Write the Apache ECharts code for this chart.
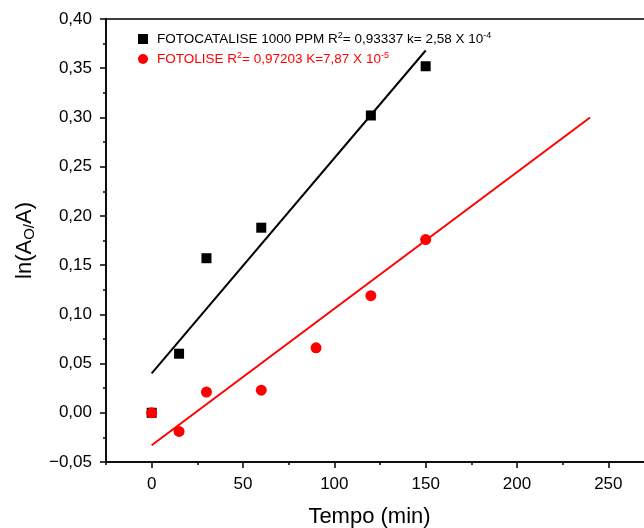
<!DOCTYPE html>
<html>
<head>
<meta charset="utf-8">
<script src="https://cdn.jsdelivr.net/npm/echarts@6/dist/echarts.min.js"></script>
<style>html,body{margin:0;padding:0;background:#fff}#c{width:644px;height:528px}</style>
</head>
<body>
<div id="c"></div>
<script>
// ---- data ----
const tempoCat = [0, 15, 30, 60, 120, 150];
const lnCat = [0.000, 0.060, 0.157, 0.188, 0.302, 0.352];
const tempoFot = [0, 15, 30, 60, 90, 120, 150];
const lnFot = [0.000, -0.019, 0.021, 0.023, 0.066, 0.119, 0.176];
// fitted lines (end points)
const fitCatX = [0, 150];
const fitCatY = [0.040, 0.368];
const fitFotX = [0, 240];
const fitFotY = [-0.033, 0.300];
const xMajorTicks = [0, 50, 100, 150, 200, 250];
const xMinorTicks = [-25, 25, 75, 125, 175, 225, 275];
const nameCat = 'FOTOCATALISE 1000 PPM';
const nameFot = 'FOTOLISE';

const zip = (a, b) => a.map((v, i) => [v, b[i]]);
const FONT = 'Liberation Sans, Arial, sans-serif';

const chart = echarts.init(document.getElementById('c'), null, {renderer: 'canvas'});
chart.setOption({
  animation: false,
  backgroundColor: '#fff',
  textStyle: {fontFamily: FONT},
  grid: {left: 106, top: 19, width: 548, bottom: 66, show: true, borderColor: '#000', borderWidth: 1.5,
    containLabel: false, outerBoundsMode: 'none'},
  legend: {
    orient: 'vertical', left: 133, top: 26, itemGap: 4,
    itemWidth: 10, itemHeight: 10,
    data: [
      {name: nameCat, icon: 'rect', itemStyle: {color: '#000'}, textStyle: {color: '#000'}},
      {name: nameFot, icon: 'circle', itemStyle: {color: '#ff0000'}, textStyle: {color: '#ff0000'}}
    ],
    formatter: function (n) {
      if (n === nameCat) return n + ' R{sup|2}= 0,93337 k= 2,58 X 10{sup|-4}';
      return n + ' R{sup|2}= 0,97203 K=7,87 X 10{sup|-5}';
    },
    textStyle: {fontFamily: FONT, fontSize: 13.5, lineHeight: 16, padding: [0, 0, 0, 4],
      rich: {sup: {fontSize: 9, verticalAlign: 'top', lineHeight: 16}}}
  },
  xAxis: [{
    type: 'value', min: -25, max: 275,
    name: 'Tempo (min)', nameLocation: 'middle', nameGap: 44,
    nameTextStyle: {fontFamily: FONT, fontSize: 22, color: '#000', padding: [0, 21, 0, 0]},
    axisLine: {onZero: false, lineStyle: {color: '#000', width: 1.5}},
    axisTick: {show: true, length: 6, customValues: xMajorTicks, lineStyle: {color: '#000', width: 1.5}},
    axisLabel: {customValues: xMajorTicks, color: '#000', fontSize: 17, margin: 14, fontFamily: FONT},
    splitLine: {show: false}
  }, {
    type: 'value', min: -25, max: 275, position: 'bottom',
    axisLine: {show: false, onZero: false},
    axisTick: {show: true, length: 3, customValues: xMinorTicks, lineStyle: {color: '#000', width: 1.5}},
    axisLabel: {show: false},
    splitLine: {show: false}
  }],
  yAxis: {
    type: 'value', min: -0.05, max: 0.40, interval: 0.05,
    name: 'ln(A{sub|O/}A)', nameLocation: 'middle', nameGap: 69,
    nameTextStyle: {fontFamily: FONT, fontSize: 22, color: '#000', rich: {sub: {fontSize: 15, verticalAlign: 'bottom', lineHeight: 24}}},
    axisLine: {onZero: false, lineStyle: {color: '#000', width: 1.5}},
    axisTick: {show: true, length: 6, lineStyle: {color: '#000', width: 1.5}},
    minorTick: {show: true, splitNumber: 2, length: 3, lineStyle: {color: '#000', width: 1.5}},
    axisLabel: {color: '#000', fontSize: 17, margin: 14, fontFamily: FONT,
      formatter: v => (v < 0 ? '\u2212' : '') + Math.abs(v).toFixed(2).replace('.', ',')},
    splitLine: {show: false}
  },
  series: [
    {name: 'fitCat', type: 'line', data: zip(fitCatX, fitCatY), showSymbol: false, symbol: 'none',
      lineStyle: {color: '#000', width: 2}, silent: true, z: 1},
    {name: 'fitFot', type: 'line', data: zip(fitFotX, fitFotY), showSymbol: false, symbol: 'none',
      lineStyle: {color: '#ff0000', width: 2}, silent: true, z: 1},
    {name: nameCat, type: 'scatter', data: zip(tempoCat, lnCat), symbol: 'rect', symbolSize: 10,
      itemStyle: {color: '#000', opacity: 1}, z: 3},
    {name: nameFot, type: 'scatter', data: zip(tempoFot, lnFot), symbol: 'circle', symbolSize: 11,
      itemStyle: {color: '#ff0000', opacity: 1}, z: 4}
  ]
});
</script>
</body>
</html>
